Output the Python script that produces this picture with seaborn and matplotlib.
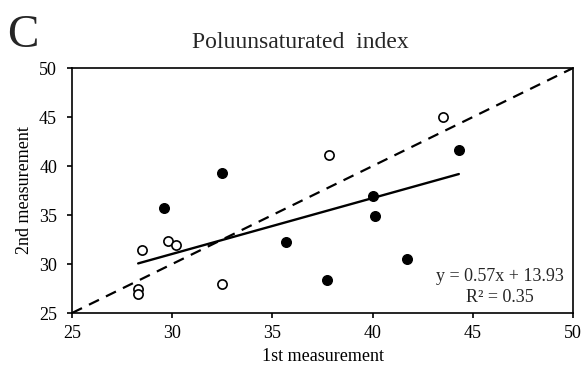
import matplotlib
matplotlib.use("Agg")
import matplotlib.pyplot as plt
import seaborn as sns
import pandas as pd
import numpy as np

# Data
filled_x = [29.6, 32.5, 35.7, 37.7, 40.0, 40.1, 41.7, 44.3]
filled_y = [35.7, 39.3, 32.2, 28.4, 36.9, 34.9, 30.5, 41.6]
open_x = [28.3, 28.3, 28.5, 29.8, 30.2, 32.5, 37.8, 43.5]
open_y = [27.5, 26.9, 31.4, 32.3, 31.9, 28.0, 41.1, 45.0]
slope = 0.57
intercept = 13.93
r2 = 0.35
ticks = [25, 30, 35, 40, 45, 50]

sns.set_theme(style="white")
plt.rcParams['font.family'] = ['Liberation Serif', 'DejaVu Serif']

fig = plt.figure(figsize=(5.83, 3.71), dpi=100)
ax = fig.add_axes([0.1235, 0.1563, 0.8595, 0.6604])

df_f = pd.DataFrame({"x": filled_x, "y": filled_y})
df_o = pd.DataFrame({"x": open_x, "y": open_y})

# identity dashed line
ax.plot([25, 50], [25, 50], ls=(0, (5, 3.5)), color='black', lw=1.6, zorder=1)

# trend line
all_x = filled_x + open_x
xs = np.array([min(all_x), max(all_x)])
sns.lineplot(x=xs, y=slope * xs + intercept, color='black', lw=1.7, ax=ax, zorder=2)

sns.scatterplot(data=df_f, x="x", y="y", ax=ax, s=48, color='black',
                edgecolor='black', linewidth=1.0, zorder=3)
sns.scatterplot(data=df_o, x="x", y="y", ax=ax, s=44, facecolor='white',
                edgecolor='black', linewidth=1.2, zorder=3)

ax.set_xlim(25, 50)
ax.set_ylim(25, 50)
ax.set_xticks(ticks)
ax.set_yticks(ticks)
ax.tick_params(axis='both', direction='out', length=3.8, width=1.2,
               labelsize=13, colors='black', bottom=True, left=True)
ax.tick_params(axis='y', pad=7)
ax.tick_params(axis='x', pad=5)
for s in ax.spines.values():
    s.set_color('black')
    s.set_linewidth(1.2)

ax.set_xlabel("1st measurement", fontsize=13, color='black', labelpad=4)
ax.set_ylabel("2nd measurement", fontsize=13, color='black', labelpad=4)

ax.text(0.982, 0.03, f"y = {slope:.2f}x + {intercept:.2f}\nR\u00b2 = {r2:.2f}",
        transform=ax.transAxes, ha='right', va='bottom', multialignment='center',
        fontsize=13, linespacing=1.25)

fig.text(0.516, 0.871, "Poluunsaturated  index", ha='center', va='baseline', fontsize=17)
fig.text(0.012, 0.873, "C", ha='left', va='baseline', fontsize=34)

fig.savefig("out.png", dpi=100)
